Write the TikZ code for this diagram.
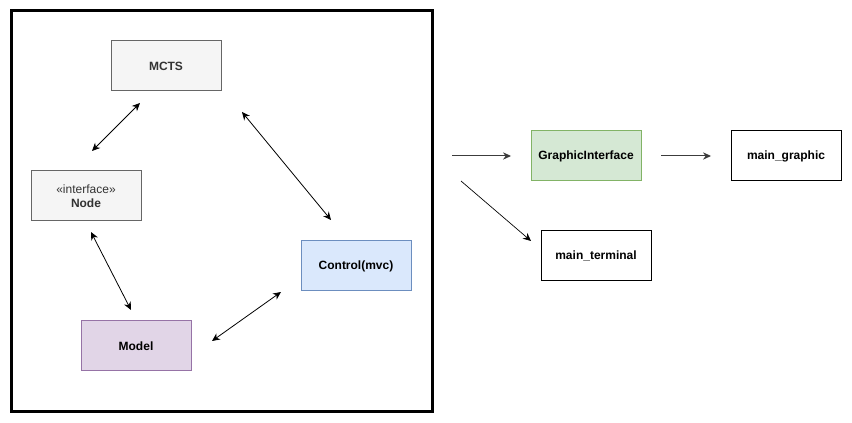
\documentclass[tikz,border=0pt]{standalone}
\usepackage{fontspec}
\setmainfont{Liberation Sans}
\usepackage{xcolor}
\usetikzlibrary{arrows.meta}
\definecolor{grayfill}{RGB}{245,245,245}
\definecolor{graydraw}{RGB}{102,102,102}
\definecolor{graytext}{RGB}{51,51,51}
\definecolor{bluefill}{RGB}{218,232,252}
\definecolor{bluedraw}{RGB}{108,142,191}
\definecolor{greenfill}{RGB}{213,232,212}
\definecolor{greendraw}{RGB}{130,179,102}
\definecolor{purplefill}{RGB}{225,213,231}
\definecolor{purpledraw}{RGB}{150,115,166}
\definecolor{linegray}{RGB}{60,60,60}

\tikzset{
  box/.style={draw, line width=0.75pt, minimum width=82.5pt, minimum height=37.5pt,
    inner sep=0.75pt, align=center, font=\fontsize{9}{10.5}\selectfont\bfseries},
  graybox/.style={box, fill=grayfill, draw=graydraw, text=graytext},
  link/.style={line width=0.6pt, {Stealth[length=6pt,width=5.5pt]}-{Stealth[length=6pt,width=5.5pt]}},
  flow/.style={line width=0.75pt, draw=linegray, -{Stealth[length=6pt,width=5.5pt]}}
}

\begin{document}
\begin{tikzpicture}[x=0.75pt,y=0.75pt,yscale=-1,xscale=1]
\useasboundingbox (0,0) rectangle (852,423);

%Frame
\draw [line width=2.25pt] (11,11) rectangle (432,411);

% Boxes
\node [graybox] (mcts) at (166,66) {MCTS};
\node [graybox] (iface) at (86,196) {{\mdseries\guillemotleft interface\guillemotright}\\Node};
\node [box, fill=bluefill, draw=bluedraw] (control) at (356,266) {Control(mvc)};
\node [box, fill=purplefill, draw=purpledraw] (model) at (136,346) {Model};
\node [box, fill=greenfill, draw=greendraw] (gui) at (586,156) {GraphicInterface};
\node [box] (maingraphic) at (786,156) {main\_graphic};
\node [box] (mainterminal) at (596,256) {main\_terminal};

% Arrow ends
\coordinate (mctsA) at (140,103);
\coordinate (ifaceA) at (92,151);
\coordinate (mctsB) at (242,112);
\coordinate (controlB) at (331,220);
\coordinate (ifaceC) at (91,232);
\coordinate (modelC) at (131,310);
\coordinate (modelD) at (212,341);
\coordinate (controlD) at (281,292);
\coordinate (startE) at (452,156);
\coordinate (guiE) at (511,156);
\coordinate (guiF) at (661,156);
\coordinate (graphicF) at (711,156);
\coordinate (startG) at (461,181);
\coordinate (terminalG) at (531,241);

% Links
\draw [link] (mctsA) -- (ifaceA);
\draw [link] (mctsB) -- (controlB);
\draw [link] (ifaceC) -- (modelC);
\draw [link] (modelD) -- (controlD);
\draw [flow] (startE) -- (guiE);
\draw [flow] (guiF) -- (graphicF);
\draw [flow, line width=0.5pt, draw=black] (startG) -- (terminalG);

\end{tikzpicture}
\end{document}
